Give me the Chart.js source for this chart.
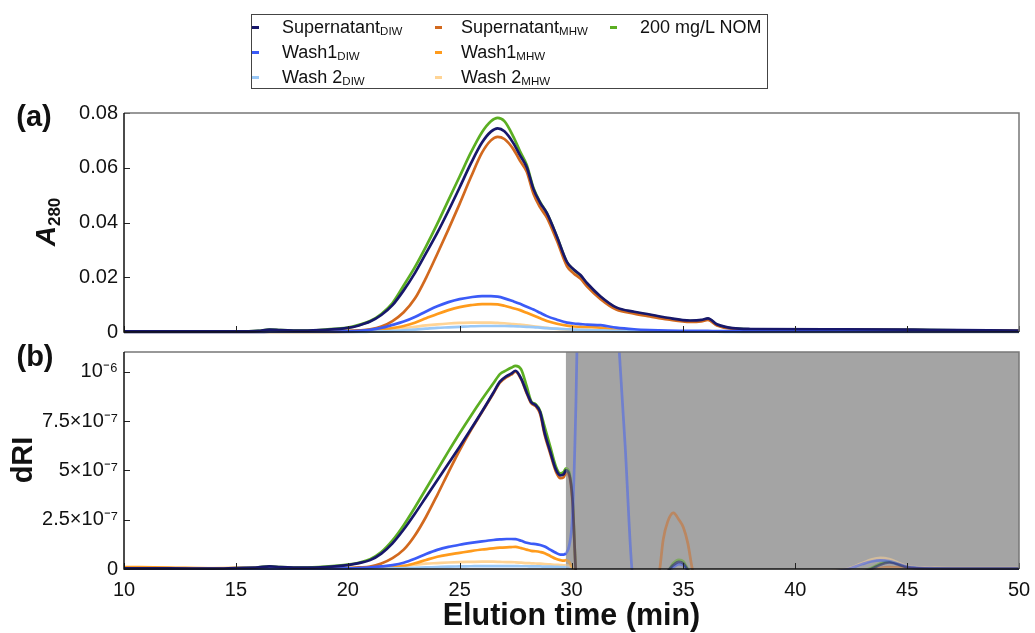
<!DOCTYPE html>
<html>
<head>
<meta charset="utf-8">
<script src="https://cdn.jsdelivr.net/npm/chart.js@4.4.1/dist/chart.umd.min.js"></script>
<style>
  body { margin: 0; background: #fff; font-family: "Liberation Sans", Arial, sans-serif; color: #111; }
  #page { position: relative; width: 1035px; height: 633px; overflow: hidden; }
  canvas { position: absolute; left: 0; top: 0; }
  .abs { position: absolute; white-space: nowrap; }
  .mk { position: absolute; width: 7px; height: 2.5px; }
  .lg { position: absolute; font-size: 18px; line-height: 25px; white-space: nowrap; }
  .lg sub { font-size: 11.5px; vertical-align: -2px; line-height: 0; }
  .rot { transform: translate(-50%, -50%) rotate(-90deg); }
  .ctr { transform: translate(-50%, -50%); }
</style>
</head>
<body>
<div id="page">
  <canvas id="chartA" width="1035" height="633"></canvas>
  <canvas id="chartB" width="1035" height="633"></canvas>

  <div class="abs" style="left:251px;top:14px;width:517px;height:75px;border:1.5px solid #444;box-sizing:border-box;"></div>
  <div class="mk" style="left:252px;top:26px;background:#17176b"></div>
  <div class="mk" style="left:252px;top:51px;background:#3b5bf7"></div>
  <div class="mk" style="left:252px;top:76px;background:#99c8f7"></div>
  <div class="mk" style="left:435px;top:26px;background:#d2691e"></div>
  <div class="mk" style="left:435px;top:51px;background:#ff9b1c"></div>
  <div class="mk" style="left:435px;top:76px;background:#ffd495"></div>
  <div class="mk" style="left:610px;top:26px;background:#5bae22"></div>
  <div class="lg" style="left:282px;top:15px">Supernatant<sub>DIW</sub></div>
  <div class="lg" style="left:282px;top:40px">Wash1<sub>DIW</sub></div>
  <div class="lg" style="left:282px;top:65px">Wash 2<sub>DIW</sub></div>
  <div class="lg" style="left:461px;top:15px">Supernatant<sub>MHW</sub></div>
  <div class="lg" style="left:461px;top:40px">Wash1<sub>MHW</sub></div>
  <div class="lg" style="left:461px;top:65px">Wash 2<sub>MHW</sub></div>
  <div class="lg" style="left:640px;top:15px">200 mg/L NOM</div>

  <div class="abs ctr" style="left:34px;top:116px;font-weight:bold;font-size:29px;line-height:1;">(a)</div>
  <div class="abs ctr" style="left:35px;top:356px;font-weight:bold;font-size:29px;line-height:1;">(b)</div>
  <div class="abs rot" style="left:46px;top:222px;font-weight:bold;font-size:28px;line-height:1;"><i>A</i><sub style="font-size:17px;vertical-align:-5px;line-height:0;">280</sub></div>
  <div class="abs rot" style="left:22px;top:460px;font-weight:bold;font-size:29px;line-height:1;">dRI</div>
</div>

<script>
// panel (a): absorbance at 280 nm
const timeA = [10, 15, 16, 16.5, 17, 18, 19, 20, 20.5, 21, 21.5, 22, 22.5, 23, 23.5, 24, 24.5, 25, 25.5, 26,
  26.4, 26.7, 27, 27.4, 27.7, 28, 28.3, 28.6, 28.9, 29.35, 29.8, 30.1, 30.4, 30.7, 31.3, 32, 32.8, 33.5, 34.3, 35.3,
  35.8, 36.1, 36.5, 37.2, 38, 42, 46, 50];

const a280SupDIW = [0.0002, 0.0002, 0.0004, 0.0009, 0.0007, 0.0005, 0.0008, 0.0015, 0.0024, 0.0038,
  0.0062, 0.0098, 0.0152, 0.0215, 0.0288, 0.0362, 0.0443, 0.0528, 0.0615, 0.0692,
  0.0732, 0.0744, 0.0733, 0.0690, 0.0645, 0.0602, 0.0522, 0.0472, 0.0434, 0.0348,
  0.0255, 0.0228, 0.0208, 0.0178, 0.0130, 0.0090, 0.0074, 0.0064, 0.0052, 0.0042,
  0.0044, 0.0050, 0.0028, 0.0014, 0.0011, 0.0010, 0.0008, 0.0005];
const a280Wash1DIW = [0, 0, 0, 0.0001, 0.0001, 0.0001, 0.0001, 0.0002, 0.0004, 0.0008,
  0.0015, 0.0026, 0.0038, 0.0055, 0.0075, 0.0094, 0.0109, 0.0120, 0.0127, 0.0131,
  0.0131, 0.0129, 0.0123, 0.0112, 0.0103, 0.0092, 0.0082, 0.0070, 0.0058, 0.0045,
  0.0034, 0.0031, 0.0029, 0.0027, 0.0025, 0.0016, 0.0010, 0.0007, 0.0005, 0.0004,
  0.0004, 0.0004, 0.0003, 0.0003, 0.0003, 0.0003, 0.0002, 0.0002];
const a280Wash2DIW = [0, 0, 0, 0, 0, 0, 0, 0, 0, 0.0001,
  0.0002, 0.0004, 0.0006, 0.0009, 0.0012, 0.0015, 0.0017, 0.0019, 0.0021, 0.0022,
  0.0022, 0.0022, 0.0022, 0.0021, 0.0020, 0.0019, 0.0018, 0.0016, 0.0014, 0.0012,
  0.0010, 0.0009, 0.0008, 0.0007, 0.0006, 0.0004, 0.0003, 0.0002, 0.0001, 0.0001,
  0.0001, 0.0001, 0.0001, 0, 0, 0, 0, 0];
const a280SupMHW = [0.0001, 0.0001, 0.0002, 0.0004, 0.0003, 0.0002, 0.0003, 0.0004, 0.0006, 0.0010,
  0.0020, 0.0040, 0.0072, 0.0122, 0.0198, 0.0285, 0.0375, 0.0468, 0.0565, 0.0655,
  0.0700, 0.0713, 0.0705, 0.0668, 0.0625, 0.0585, 0.0505, 0.0455, 0.0418, 0.0333,
  0.0240, 0.0214, 0.0195, 0.0166, 0.0120, 0.0082, 0.0067, 0.0057, 0.0046, 0.0037,
  0.0039, 0.0044, 0.0024, 0.0011, 0.0009, 0.0008, 0.0006, 0.0004];
const a280Wash1MHW = [0, 0, 0, 0, 0, 0, 0, 0.0001, 0.0002, 0.0004,
  0.0008, 0.0014, 0.0022, 0.0034, 0.0050, 0.0066, 0.0080, 0.0091, 0.0098, 0.0102,
  0.0102, 0.0101, 0.0096, 0.0087, 0.0080, 0.0070, 0.0060, 0.0050, 0.0040, 0.0030,
  0.0023, 0.0020, 0.0019, 0.0018, 0.0016, 0.0008, 0.0004, 0.0003, 0.0002, 0.0002,
  0.0002, 0.0002, 0.0002, 0.0001, 0.0001, 0.0001, 0.0001, 0.0001];
const a280Wash2MHW = [0, 0, 0, 0, 0, 0, 0, 0, 0.0001, 0.0003,
  0.0006, 0.0010, 0.0014, 0.0019, 0.0024, 0.0028, 0.0031, 0.0033, 0.0034, 0.0034,
  0.0034, 0.0033, 0.0032, 0.0029, 0.0027, 0.0024, 0.0021, 0.0018, 0.0015, 0.0011,
  0.0009, 0.0008, 0.0007, 0.0006, 0.0005, 0.0003, 0.0002, 0.0001, 0.0001, 0.0001,
  0.0001, 0.0001, 0.0001, 0.0001, 0, 0, 0, 0];
const a280NOM = [0.0002, 0.0002, 0.0004, 0.0009, 0.0007, 0.0005, 0.0009, 0.0016, 0.0026, 0.0040,
  0.0066, 0.0106, 0.0170, 0.0237, 0.0313, 0.0395, 0.0482, 0.0568, 0.0655, 0.0730,
  0.0770, 0.0782, 0.0770, 0.0714, 0.0660, 0.0610, 0.0526, 0.0474, 0.0434, 0.0348,
  0.0254, 0.0227, 0.0206, 0.0176, 0.0128, 0.0088, 0.0072, 0.0062, 0.0050, 0.0040,
  0.0042, 0.0048, 0.0026, 0.0013, 0.0010, 0.0009, 0.0007, 0.0004];

// panel (b): refractive index detector, values in units of 1e-7
const timeB = [10, 12, 14, 15, 16, 16.5, 17, 18, 19, 20,
  20.5, 21, 21.5, 22, 22.5, 23, 23.5, 24, 24.5, 25,
  25.5, 26, 26.5, 26.8, 27.1, 27.3, 27.5, 27.75, 28, 28.2,
  28.4, 28.6, 28.8, 29.05, 29.3, 29.5, 29.65, 29.75, 29.9, 30.05,
  30.2, 30.4, 31, 32, 32.4, 32.7, 33, 33.9, 34.1, 34.3,
  34.55, 34.8, 35, 35.2, 35.4, 35.6, 36, 40, 42.3, 43,
  43.4, 43.8, 44.2, 45, 46, 47, 50];

const dRISupDIW = [0.03, 0.03, 0.02, 0.05, 0.08, 0.13, 0.1, 0.07, 0.1, 0.2,
  0.3, 0.45, 0.78, 1.3, 2.0, 2.8, 3.65, 4.5, 5.35, 6.2,
  7.08, 7.98, 8.92, 9.5, 9.78, 9.9, 10.05, 9.65, 8.95, 8.45,
  8.3, 7.95, 6.9, 5.95, 5.05, 4.75, 4.8, 5.0, 4.8, 3.4,
  -0.3, -2, -3, -3, -2.5, -2, -1.5, -0.5, -0.3, -0.1,
  0.2, 0.36, 0.28, -0.05, -0.3, -0.5, -0.6, -0.5, -0.3, -0.15,
  0.0, 0.22, 0.33, 0.08, 0.02, 0.02, 0.02];
const dRIWash1DIW = [0, 0, 0, 0, 0.01, 0.02, 0.02, 0.02, 0.02, 0.03,
  0.05, 0.08, 0.13, 0.2, 0.32, 0.52, 0.76, 0.97, 1.12, 1.23,
  1.32, 1.4, 1.47, 1.5, 1.52, 1.52, 1.51, 1.43, 1.33, 1.28,
  1.26, 1.22, 1.14, 0.98, 0.82, 0.73, 0.73, 0.8, 1.2, 2.8,
  8.5, 20, 30, 13.5, 6.2, 0.0, -1.5, -0.8, -0.4, -0.15,
  0.08, 0.25, 0.18, -0.1, -0.3, -0.4, -0.5, -0.3, -0.02, 0.25,
  0.38, 0.44, 0.4, 0.12, 0.04, 0.02, 0.02];
const dRIWash2DIW = [0, 0, 0, 0, 0, 0, 0, 0, 0, 0,
  0, 0.01, 0.02, 0.03, 0.04, 0.06, 0.08, 0.1, 0.12, 0.13,
  0.14, 0.15, 0.15, 0.15, 0.15, 0.15, 0.15, 0.14, 0.14, 0.13,
  0.13, 0.13, 0.12, 0.12, 0.11, 0.1, 0.1, 0.1, 0.05, -0.1,
  -0.3, -0.6, -1, -1, -0.9, -0.8, -0.7, -0.5, -0.4, -0.3,
  -0.3, -0.3, -0.3, -0.3, -0.3, -0.3, -0.3, -0.2, -0.1, -0.05,
  -0.02, 0, 0, 0, 0, 0, 0];
const dRISupMHW = [0.03, 0.03, 0.02, 0.03, 0.03, 0.04, 0.04, 0.03, 0.03, 0.05,
  0.08, 0.12, 0.28, 0.55, 0.98, 1.7, 2.65, 3.75, 4.9, 6.02,
  7.03, 7.95, 8.88, 9.45, 9.73, 9.85, 10.0, 9.62, 8.9, 8.4,
  8.25, 7.85, 6.8, 5.85, 4.95, 4.6, 4.65, 4.85, 4.7, 3.3,
  -0.3, -2, -3, -3, -2.5, -2, -1.5, -0.3, 1.5, 2.4,
  2.84, 2.5, 2.1, 1.3, 0.0, -0.8, -1, -0.5, -0.3, -0.15,
  -0.05, 0.05, 0.1, 0.05, 0, 0, 0];
const dRIWash1MHW = [0.1, 0.07, 0.03, 0.04, 0.02, 0.02, 0.02, 0.02, 0.02, 0.02,
  0.03, 0.04, 0.06, 0.09, 0.15, 0.29, 0.46, 0.62, 0.73, 0.82,
  0.91, 0.99, 1.05, 1.08, 1.1, 1.11, 1.12, 1.06, 0.98, 0.92,
  0.9, 0.86, 0.8, 0.66, 0.52, 0.45, 0.42, 0.45, 0.35, 0.0,
  -0.5, -1, -1.5, -1.5, -1.2, -1, -0.8, -0.5, -0.4, -0.3,
  -0.2, -0.2, -0.2, -0.2, -0.2, -0.2, -0.2, -0.2, -0.1, -0.05,
  -0.02, 0, 0, 0, 0, 0, 0];
const dRIWash2MHW = [0.05, 0.05, 0.05, 0.06, 0.06, 0.05, 0.04, 0.03, 0.03, 0.04,
  0.05, 0.07, 0.1, 0.13, 0.17, 0.22, 0.27, 0.3, 0.33, 0.35,
  0.36, 0.37, 0.37, 0.36, 0.35, 0.35, 0.34, 0.32, 0.3, 0.29,
  0.28, 0.27, 0.25, 0.23, 0.21, 0.2, 0.19, 0.19, 0.15, 0.0,
  -0.3, -0.6, -1, -1, -0.9, -0.8, -0.7, -0.5, -0.4, -0.3,
  -0.3, -0.3, -0.3, -0.3, -0.3, -0.3, -0.3, -0.2, 0.0, 0.3,
  0.48, 0.56, 0.5, 0.15, 0.07, 0.05, 0.04];
const dRINOM = [0.03, 0.03, 0.02, 0.05, 0.08, 0.13, 0.1, 0.07, 0.12, 0.22,
  0.32, 0.5, 0.86, 1.45, 2.22, 3.12, 4.07, 5.02, 5.96, 6.88,
  7.76, 8.6, 9.4, 9.88, 10.08, 10.2, 10.3, 10.12, 9.25, 8.5,
  8.35, 8.0, 7.2, 6.2, 5.2, 4.85, 4.92, 5.1, 4.9, 3.5,
  -0.3, -2, -3, -3, -2.5, -2, -1.5, -0.5, -0.3, -0.15,
  0.3, 0.47, 0.38, 0.0, -0.3, -0.5, -0.6, -0.5, -0.3, -0.1,
  0.05, 0.28, 0.38, 0.1, 0.03, 0.02, 0.02];

// region of panel (b) greyed out in the original figure
const dRIMaskStart = 29.75;

const xTicks = [10, 15, 20, 25, 30, 35, 40, 45, 50];
const dRITickValues = [0, 2.5, 5, 7.5, 10];
const dRITickLabels = ["0", "2.5\u00d710\u207b\u2077", "5\u00d710\u207b\u2077", "7.5\u00d710\u207b\u2077", "10\u207b\u2076"];

// first entry is drawn on top
const series = [
  { label: "Supernatant DIW", color: "#17176b", a: a280SupDIW, b: dRISupDIW },
  { label: "Wash1 DIW", color: "#3b5bf7", a: a280Wash1DIW, b: dRIWash1DIW },
  { label: "Wash 2 DIW", color: "#99c8f7", a: a280Wash2DIW, b: dRIWash2DIW },
  { label: "Supernatant MHW", color: "#d2691e", a: a280SupMHW, b: dRISupMHW },
  { label: "Wash1 MHW", color: "#ff9b1c", a: a280Wash1MHW, b: dRIWash1MHW },
  { label: "Wash 2 MHW", color: "#ffd495", a: a280Wash2MHW, b: dRIWash2MHW },
  { label: "200 mg/L NOM", color: "#5bae22", a: a280NOM, b: dRINOM },
];

Chart.defaults.font.family = '"Liberation Sans", Arial, sans-serif';
Chart.defaults.color = "#111";

function toPoints(times, values) {
  return times.map((t, i) => ({ x: t, y: values[i] }));
}

function fade(hex, alpha) {
  const n = parseInt(hex.slice(1), 16);
  return `rgba(${(n >> 16) & 255}, ${(n >> 8) & 255}, ${n & 255}, ${alpha})`;
}

// box around the plot area and short inward tick marks
const framePlugin = {
  id: "frame",
  afterDatasetsDraw(chart) {
    const { ctx, chartArea: { left, right, top, bottom }, scales: { x, y } } = chart;
    ctx.save();
    ctx.lineWidth = 1;
    ctx.strokeStyle = "#222";
    ctx.beginPath();
    x.ticks.forEach((t) => {
      const px = Math.round(x.getPixelForValue(t.value)) + 0.5;
      ctx.moveTo(px, bottom);
      ctx.lineTo(px, bottom - 6);
    });
    y.ticks.forEach((t) => {
      const py = Math.round(y.getPixelForValue(t.value)) + 0.5;
      ctx.moveTo(left, py);
      ctx.lineTo(left + 6, py);
    });
    ctx.stroke();
    ctx.lineWidth = 1.5;
    ctx.strokeStyle = "#777";
    ctx.beginPath();
    ctx.moveTo(left, top);
    ctx.lineTo(right, top);
    ctx.lineTo(right, bottom);
    ctx.stroke();
    ctx.strokeStyle = "#111";
    ctx.beginPath();
    ctx.moveTo(left, top);
    ctx.lineTo(left, bottom);
    ctx.lineTo(right, bottom);
    ctx.stroke();
    ctx.restore();
  },
};

const maskPlugin = {
  id: "mask",
  beforeDatasetsDraw(chart) {
    const { ctx, chartArea: { top, bottom, right }, scales: { x } } = chart;
    const x0 = x.getPixelForValue(dRIMaskStart);
    ctx.save();
    ctx.fillStyle = "#a4a4a4";
    ctx.fillRect(x0, top, right - x0, bottom - top);
    ctx.restore();
  },
};

function xScale(showLabels, height) {
  return {
    type: "linear",
    min: 10,
    max: 50,
    afterBuildTicks: (s) => { s.ticks = xTicks.map((v) => ({ value: v })); },
    ticks: { display: showLabels, padding: 9, font: { size: 20 } },
    grid: { display: false, drawTicks: false },
    border: { display: false },
    title: {
      display: showLabels,
      text: "Elution time (min)",
      font: { size: 30.5, weight: "bold" },
      padding: { top: 0, bottom: -2 },
    },
    afterFit: (s) => { s.height = height; s.paddingLeft = 0; s.paddingRight = 0; },
  };
}

function yFit(s) {
  s.width = 124;
  s.paddingTop = 0;
  s.paddingBottom = 0;
}

const baseOptions = {
  responsive: false,
  animation: false,
  plugins: { legend: { display: false }, tooltip: { enabled: false } },
  elements: { point: { radius: 0 }, line: { borderWidth: 2.7, cubicInterpolationMode: "monotone" } },
};

new Chart(document.getElementById("chartA"), {
  type: "line",
  data: {
    datasets: series.map((s) => ({
      label: s.label,
      data: toPoints(timeA, s.a),
      borderColor: s.color,
      clip: { left: 0, top: 0, right: 0, bottom: 2 },
    })),
  },
  options: {
    ...baseOptions,
    layout: { padding: { top: 113, right: 16, bottom: 301, left: 0 } },
    scales: {
      x: xScale(false, 0),
      y: {
        min: 0,
        max: 0.08,
        ticks: { stepSize: 0.02, padding: 6, font: { size: 20 } },
        grid: { display: false, drawTicks: false },
        border: { display: false },
        afterFit: yFit,
      },
    },
  },
  plugins: [framePlugin],
});

new Chart(document.getElementById("chartB"), {
  type: "line",
  data: {
    datasets: series.map((s) => ({
      label: s.label,
      data: toPoints(timeB, s.b),
      borderColor: s.color,
      clip: { left: 0, top: 0, right: 0, bottom: 1 },
      segment: {
        borderColor: (ctx) => (ctx.p0.parsed.x >= dRIMaskStart - 1e-9 ? fade(s.color, 0.5) : undefined),
      },
    })),
  },
  options: {
    ...baseOptions,
    layout: { padding: { top: 352, right: 16, bottom: 0, left: 0 } },
    scales: {
      x: xScale(true, 64),
      y: {
        min: 0,
        max: 11,
        afterBuildTicks: (s) => { s.ticks = dRITickValues.map((v) => ({ value: v })); },
        ticks: {
          padding: 6,
          font: { size: 20 },
          callback: (v) => {
            const i = dRITickValues.indexOf(v);
            return i >= 0 ? dRITickLabels[i] : "";
          },
        },
        grid: { display: false, drawTicks: false },
        border: { display: false },
        afterFit: yFit,
      },
    },
  },
  plugins: [maskPlugin, framePlugin],
});
</script>
</body>
</html>
